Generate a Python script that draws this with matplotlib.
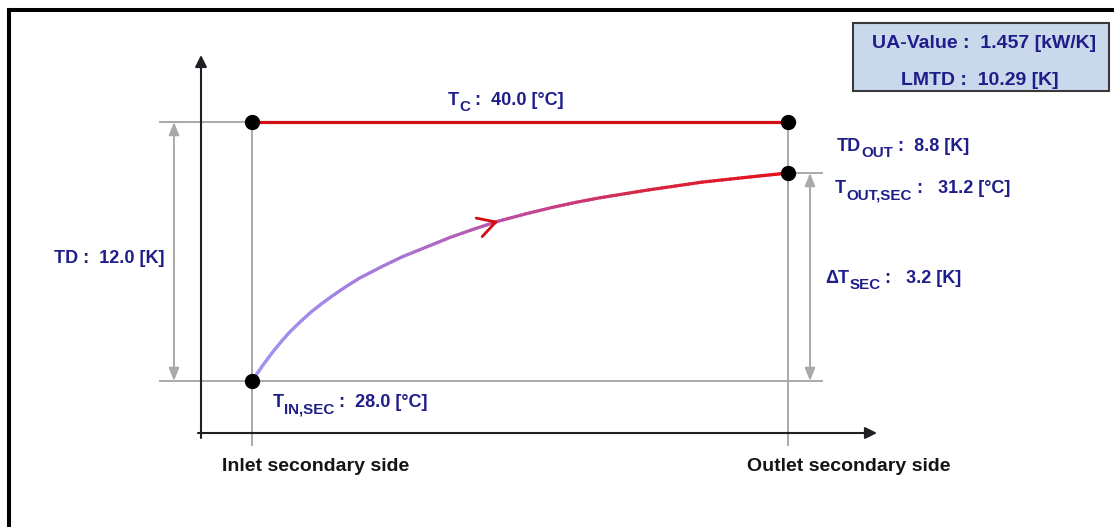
import numpy as np
import matplotlib
matplotlib.use("Agg")
import matplotlib.pyplot as plt
from matplotlib.collections import LineCollection
from matplotlib.colors import LinearSegmentedColormap
from matplotlib.patches import Rectangle
from matplotlib.lines import Line2D

plt.rcParams["font.family"] = ["Liberation Sans", "DejaVu Sans"]

# ---- condenser data -------------------------------------------------------
sides = ["Inlet secondary side", "Outlet secondary side"]
T_C = 40.0          # condensing temperature [°C]
T_IN_SEC = 28.0     # secondary inlet [°C]
T_OUT_SEC = 31.2    # secondary outlet [°C]
TD = 12.0           # inlet temperature difference [K]
TD_OUT = 8.8        # outlet temperature difference [K]
DT_SEC = 3.2        # secondary temperature rise [K]
UA = 1.457          # [kW/K]
LMTD = 10.29        # [K]

# secondary-fluid temperature profile along the exchanger (0 = inlet, 1 = outlet)
profile_pos = [0.0, 0.01, 0.02, 0.03, 0.04, 0.055, 0.07, 0.09, 0.11, 0.13,
               0.15, 0.175, 0.20, 0.24, 0.28, 0.325, 0.37, 0.415, 0.46, 0.51,
               0.56, 0.605, 0.65, 0.695, 0.74, 0.79, 0.84, 0.885, 0.93, 0.965,
               1.0]
profile_T = [28.00, 28.12, 28.24, 28.35, 28.46, 28.61, 28.75, 28.91, 29.06,
             29.19, 29.31, 29.45, 29.58, 29.75, 29.91, 30.06, 30.21, 30.34,
             30.46, 30.57, 30.67, 30.75, 30.82, 30.88, 30.94, 31.00, 31.06,
             31.10, 31.14, 31.17, 31.20]
arrow_idx = 18   # where the flow-direction arrow sits on the profile

# ---- layout ---------------------------------------------------------------
W, H = 1114, 527
NAVY = "#1e1e8a"
GREY = "#a9a9a9"
AXIS = "#221e26"
FS = 13.0        # value labels
FS_SIDE = 14.0   # inlet / outlet captions
FS_BOX = 14.0    # summary box

fig = plt.figure(figsize=(W / 100, H / 100), dpi=100)
ax_left, ax_right, ax_bottom, ax_top = 201, 877, 433, 55
ax = fig.add_axes([ax_left / W, 1 - ax_bottom / H,
                   (ax_right - ax_left) / W, (ax_bottom - ax_top) / H])

# horizontal: inlet -> 0, outlet -> 1
x0_px, x1_px = 252, 788
span = x1_px - x0_px
ax.set_xlim(-(x0_px - ax_left) / span, (ax_right - x0_px) / span)

# schematic (not to scale) vertical axis: temperature levels are spread out
levels_T = [T_IN_SEC, T_OUT_SEC, T_C]
levels_h = [52.0, 260.0, 311.0]   # drawing height above the x-axis


def _pw(v, xp, fp):
    v = np.asarray(v, dtype=float)
    out = np.interp(v, xp, fp)
    lo = (fp[1] - fp[0]) / (xp[1] - xp[0])
    hi = (fp[-1] - fp[-2]) / (xp[-1] - xp[-2])
    out = np.where(v < xp[0], fp[0] + (v - xp[0]) * lo, out)
    out = np.where(v > xp[-1], fp[-1] + (v - xp[-1]) * hi, out)
    return out


def fwd(t):
    return _pw(t, levels_T, levels_h)


def inv(h):
    return _pw(h, levels_h, levels_T)


ax.set_yscale("function", functions=(fwd, inv))
ax.set_ylim(float(inv(0.0)), float(inv(ax_bottom - ax_top)))
ax.axis("off")

# axes with arrow heads
head = "-|>,head_length=0.5,head_width=0.25"
ax.annotate("", xy=(0, 1), xycoords="axes fraction", xytext=(0, -5 / 378),
            arrowprops=dict(arrowstyle=head, color=AXIS, lw=1.5,
                            mutation_scale=14, shrinkA=0, shrinkB=0))
ax.annotate("", xy=(1, 0), xycoords="axes fraction", xytext=(-3 / 676, 0),
            arrowprops=dict(arrowstyle=head, color=AXIS, lw=1.5,
                            mutation_scale=14, shrinkA=0, shrinkB=0))

# grey guide lines
below = float(inv(-12.0))
x_ext_left = (160 - x0_px) / span
x_ext_right = (822 - x0_px) / span
guide = dict(color=GREY, lw=1.4, clip_on=False, zorder=1)
ax.plot([0, 0], [below, T_C], **guide)
ax.plot([1, 1], [below, T_C], **guide)
ax.plot([x_ext_left, 0], [T_C, T_C], **guide)
ax.plot([x_ext_left, x_ext_right], [T_IN_SEC, T_IN_SEC], **guide)
ax.plot([1, x_ext_right], [T_OUT_SEC, T_OUT_SEC], **guide)

# dimension arrows
dim_style = dict(arrowstyle="<|-|>,head_length=0.55,head_width=0.22",
                 color=GREY, lw=1.4, mutation_scale=14, shrinkA=0, shrinkB=0)
x_td = (174 - x0_px) / span
x_dt = (810 - x0_px) / span
ax.annotate("", xy=(x_td, T_C), xytext=(x_td, T_IN_SEC), arrowprops=dim_style,
            annotation_clip=False)
ax.annotate("", xy=(x_dt, T_OUT_SEC), xytext=(x_dt, T_IN_SEC),
            arrowprops=dim_style, annotation_clip=False)

# condensing line
ax.plot([0, 1], [T_C, T_C], color="#d10f14", lw=2.3, zorder=3)

# secondary profile with a blue-to-red gradient
cmap = LinearSegmentedColormap.from_list(
    "sec", ["#a196f5", "#a67ad9", "#c04a9c", "#d8243f", "#e5101a"])
px = np.asarray(profile_pos)
pt = np.asarray(profile_T)
segs, cols = [], []
n_sub = 6
for i in range(len(px) - 1):
    for k in range(n_sub):
        a, b = k / n_sub, (k + 1) / n_sub
        xa = px[i] + (px[i + 1] - px[i]) * a
        xb = px[i] + (px[i + 1] - px[i]) * b
        ta = pt[i] + (pt[i + 1] - pt[i]) * a
        tb = pt[i] + (pt[i + 1] - pt[i]) * b
        segs.append([(xa, ta), (xb, tb)])
        cols.append(cmap(0.5 * (xa + xb)))
ax.add_collection(LineCollection(segs, colors=cols, linewidths=2.3,
                                 capstyle="round", joinstyle="round",
                                 zorder=3))

# flow direction arrow on the profile
ax.annotate("", xy=(profile_pos[arrow_idx], profile_T[arrow_idx]),
            xytext=(profile_pos[arrow_idx - 1], profile_T[arrow_idx - 1]),
            arrowprops=dict(arrowstyle="->,head_length=0.9,head_width=0.5",
                            color="#d40c10", lw=2.0, mutation_scale=14,
                            shrinkA=14, shrinkB=0), zorder=4)

# state points
ax.plot([0, 1, 1, 0], [T_C, T_C, T_OUT_SEC, T_IN_SEC], "o", color="black",
        ms=10, zorder=5)


# ---- labels ----------------------------------------------------------------
renderer = fig.canvas.get_renderer()


def rich_label(pieces, xy, off, color=NAVY):
    """Place text pieces side by side; pieces flagged True are subscripts."""
    x_off = off[0]
    for text, sub in pieces:
        t = ax.annotate(text, xy=xy, xytext=(x_off, off[1] - (6 if sub else 0)),
                        textcoords="offset pixels", ha="left", va="baseline",
                        fontsize=FS * 0.84 if sub else FS, fontweight="bold",
                        color=color, annotation_clip=False)
        x_off += t.get_window_extent(renderer).width


def label(text, xy, off, ha="left", color=NAVY, xycoords="data", size=FS):
    ax.annotate(text, xy=xy, xycoords=xycoords, xytext=off,
                textcoords="offset pixels", ha=ha, va="baseline",
                fontsize=size, fontweight="bold", color=color,
                annotation_clip=False)


rich_label([("T", False), ("C", True), (f" :  {T_C:.1f} [°C]", False)],
           (0, T_C), (196, 17))
rich_label([("TD", False), ("OUT", True), (f" :  {TD_OUT:.1f} [K]", False)],
           (1, T_C), (49, -29))
rich_label([("T", False), ("OUT,SEC", True),
            (f" :   {T_OUT_SEC:.1f} [°C]", False)],
           (1, T_OUT_SEC), (47, -20))
label(f"TD :  {TD:.1f} [K]", (0, T_IN_SEC), (-198, 118))
rich_label([("ΔT", False), ("SEC", True), (f" :   {DT_SEC:.1f} [K]", False)],
           (1, T_IN_SEC), (37, 98))
rich_label([("T", False), ("IN,SEC", True),
            (f" :  {T_IN_SEC:.1f} [°C]", False)],
           (0, T_IN_SEC), (21, -26))
label(sides[0], (0, 0), (64, -38), ha="center", color="#141414",
      xycoords=("data", "axes fraction"), size=FS_SIDE)
label(sides[1], (1, 0), (61, -38), ha="center", color="#141414",
      xycoords=("data", "axes fraction"), size=FS_SIDE)

# summary box
box = Rectangle((853 / W, 1 - 91 / H), 256 / W, 68 / H,
                transform=fig.transFigure, facecolor="#cad8ec",
                edgecolor="#3a3a3a", lw=1.5)
fig.add_artist(box)
fig.text(984 / W, 1 - 48 / H, f"UA-Value :  {UA:.3f} [kW/K]", ha="center",
         va="baseline", fontsize=FS_BOX, fontweight="bold", color=NAVY)
fig.text(980 / W, 1 - 85 / H, f"LMTD :  {LMTD:.2f} [K]", ha="center",
         va="baseline", fontsize=FS_BOX, fontweight="bold", color=NAVY)

# frame
fig.add_artist(Line2D([9 / W, 9 / W], [0, 1 - 10 / H],
                      transform=fig.transFigure, color="black", lw=2.9))
fig.add_artist(Line2D([9 / W, 1], [1 - 10 / H, 1 - 10 / H],
                      transform=fig.transFigure, color="black", lw=2.9,
                      solid_capstyle="projecting"))

fig.savefig("out.png", dpi=100)
